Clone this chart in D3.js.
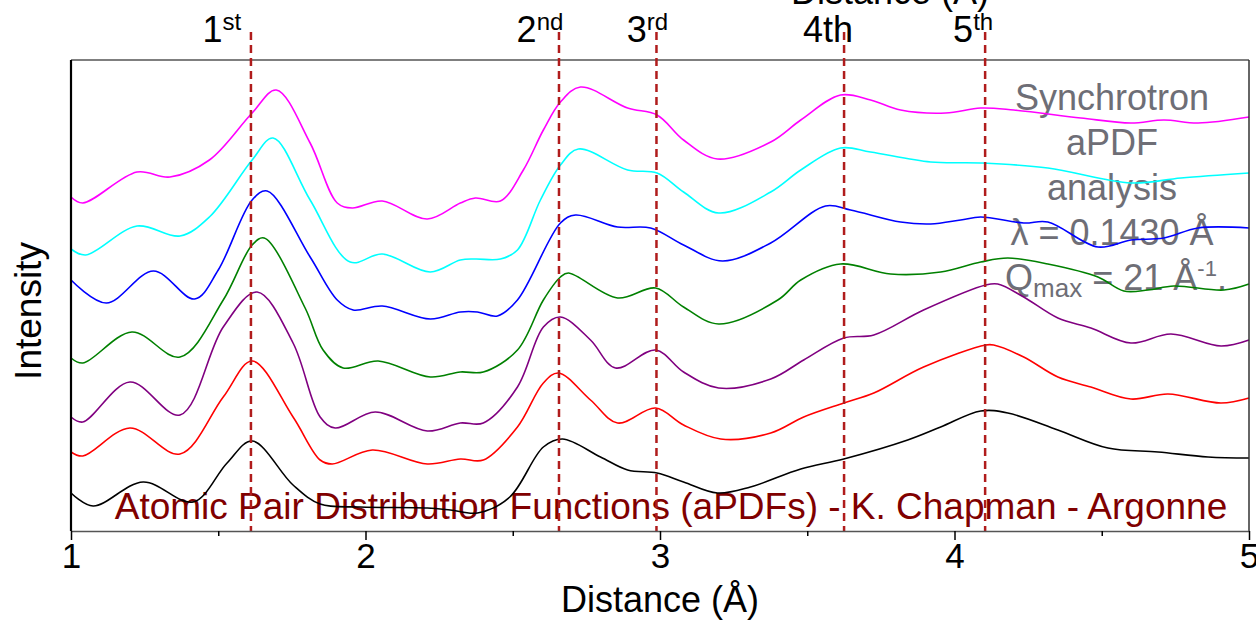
<!DOCTYPE html>
<html>
<head>
<meta charset="utf-8">
<script src="https://cdn.jsdelivr.net/npm/d3@7"></script>
<style>
  body { margin: 0; background: #fff; }
  svg { display: block; font-family: "Liberation Sans", Arial, sans-serif; }
</style>
</head>
<body>
<div class="chart"></div>
<script>
// aPDF STACKED CURVES
// each curve: [distance (Å), intensity (a.u.)]
const blackCurve = [
  [1.00, 38], [1.075, 25], [1.245, 49], [1.415, 29], [1.53, 68], [1.615, 90],
  [1.754, 46], [1.846, 27], [1.982, 24], [2.21, 23], [2.288, 21], [2.38, 18],
  [2.49, 34], [2.604, 84], [2.669, 92], [2.798, 74], [2.89, 61], [2.99, 58],
  [3.08, 49], [3.195, 38], [3.307, 44], [3.478, 62], [3.624, 72], [3.841, 91],
  [3.953, 104], [4.089, 120], [4.181, 118], [4.351, 101], [4.521, 83],
  [4.691, 79], [4.861, 74], [5.00, 73]
];
const redCurve = [
  [1.00, 79], [1.04, 75], [1.20, 103], [1.37, 77], [1.517, 134], [1.615, 170],
  [1.754, 114], [1.846, 71], [1.887, 67], [2.023, 81], [2.21, 67], [2.322, 72],
  [2.40, 71], [2.516, 104], [2.604, 148], [2.655, 158], [2.764, 131],
  [2.856, 108], [2.985, 123], [3.08, 106], [3.206, 92], [3.376, 98],
  [3.488, 114], [3.624, 128], [3.726, 138], [3.895, 164], [4.106, 186],
  [4.133, 186], [4.235, 174], [4.351, 154], [4.463, 144], [4.599, 132],
  [4.725, 137], [4.905, 128], [5.00, 133]
];
const purpleCurve = [
  [1.00, 114], [1.04, 109], [1.20, 149], [1.37, 116], [1.517, 204], [1.632, 239],
  [1.754, 188], [1.846, 114], [1.897, 103], [2.033, 119], [2.21, 100],
  [2.322, 108], [2.40, 108], [2.516, 144], [2.604, 204], [2.662, 214],
  [2.764, 191], [2.849, 163], [2.985, 181], [3.08, 159], [3.199, 143],
  [3.376, 152], [3.488, 171], [3.624, 193], [3.726, 196], [3.895, 221],
  [4.106, 246], [4.147, 247], [4.235, 234], [4.351, 213], [4.463, 203],
  [4.599, 188], [4.735, 197], [4.905, 185], [5.00, 191]
];
const greenCurve = [
  [1.00, 173], [1.04, 168], [1.207, 199], [1.37, 174], [1.517, 231], [1.615, 286],
  [1.656, 293], [1.795, 223], [1.856, 181], [1.924, 163], [2.043, 170],
  [2.22, 154], [2.322, 159], [2.40, 159], [2.516, 181], [2.604, 231],
  [2.662, 254], [2.689, 258], [2.856, 233], [2.985, 243], [3.08, 224],
  [3.199, 207], [3.40, 231], [3.478, 251], [3.613, 267], [3.783, 257],
  [3.953, 259], [4.089, 269], [4.181, 273], [4.317, 267], [4.487, 254],
  [4.575, 240], [4.657, 241], [4.745, 245], [4.915, 241], [5.00, 247]
];
const blueCurve = [
  [1.00, 251], [1.12, 228], [1.28, 260], [1.42, 232], [1.50, 261], [1.615, 331],
  [1.666, 340], [1.812, 274], [1.904, 231], [1.958, 221], [2.057, 225],
  [2.22, 212], [2.322, 219], [2.38, 219], [2.448, 215], [2.516, 231],
  [2.662, 308], [2.713, 316], [2.856, 304], [2.968, 303], [3.08, 286],
  [3.212, 270], [3.376, 288], [3.562, 325], [3.647, 321], [3.817, 309],
  [3.919, 307], [4.021, 311], [4.089, 314], [4.235, 308], [4.317, 309],
  [4.487, 284], [4.599, 291], [4.711, 293], [4.827, 303], [5.00, 303]
];
const cyanCurve = [
  [1.00, 282], [1.05, 276], [1.224, 305], [1.37, 295], [1.47, 314], [1.615, 371],
  [1.686, 393], [1.812, 331], [1.948, 269], [2.057, 277], [2.22, 259],
  [2.322, 271], [2.373, 272], [2.458, 272], [2.516, 281], [2.594, 331],
  [2.662, 366], [2.723, 382], [2.89, 361], [2.99, 358], [3.08, 339],
  [3.199, 318], [3.376, 339], [3.478, 361], [3.613, 383], [3.715, 379],
  [3.919, 369], [4.089, 368], [4.317, 363], [4.599, 348], [4.769, 353],
  [5.00, 358]
];
const magentaCurve = [
  [1.00, 334], [1.04, 328], [1.224, 359], [1.336, 354], [1.47, 371], [1.615, 418],
  [1.697, 441], [1.812, 388], [1.904, 328], [1.955, 323], [2.057, 330],
  [2.21, 312], [2.322, 328], [2.373, 333], [2.458, 330], [2.536, 361],
  [2.604, 401], [2.662, 429], [2.73, 444], [2.89, 423], [2.99, 416],
  [3.08, 391], [3.195, 372], [3.376, 389], [3.478, 411], [3.613, 436],
  [3.715, 431], [3.817, 421], [3.97, 418], [4.089, 423], [4.201, 421],
  [4.429, 413], [4.599, 408], [4.711, 411], [4.827, 408], [5.00, 414]
];

const curves = [blackCurve, redCurve, purpleCurve, greenCurve, blueCurve, cyanCurve, magentaCurve];
const curveColors = ['#000000', '#ff0000', '#800080', '#008000', '#0000ff', '#00ffff', '#ff00ff'];

// coordination shells marked with dashed lines
const shellPositions = [1.611, 2.657, 2.988, 3.625, 4.104];
const shellNumbers = ['1', '2', '3', '4', '5'];
const shellSuffixes = ['st', 'nd', 'rd', 'th', 'th'];
const shellSuffixRaised = [true, true, true, false, true];
const shellLabelShift = [-29, -19, -9, -16, -12];

const majorTicks = [1, 2, 3, 4, 5];
const minorTicks = [1.5, 2.5, 3.5, 4.5];

const infoLines = ['Synchrotron', 'aPDF', 'analysis', 'λ = 0.1430 Å'];
const creditText = 'Atomic Pair Distribution Functions (aPDFs) - K. Chapman - Argonne';

const W = 1256, H = 621;
const margin = { top: 60, right: 7, bottom: 90, left: 71 };
const width = W - margin.left - margin.right;
const height = H - margin.top - margin.bottom;

const svg = d3.select('.chart')
  .append('svg')
    .attr('width', W)
    .attr('height', H);

const g = svg.append('g')
  .attr('transform', `translate(${margin.left}, ${margin.top})`);

const xScale = d3.scaleLinear().domain([1, 5]).range([0, width]);
const yScale = d3.scaleLinear().domain([0, 471]).range([height, 0]);

// texts sit under the curves
const info = g.append('g')
  .attr('fill', '#6e6e76')
  .attr('font-size', 36)
  .attr('text-anchor', 'middle');

info.selectAll('text.line')
  .data(infoLines)
  .enter()
  .append('text')
  .attr('class', 'line')
  .attr('x', 1041)
  .attr('y', (d, i) => 50 + i * 45)
  .text(d => d);

const q = info.append('text')
  .attr('x', 1045)
  .attr('y', 230);
q.append('tspan').text('Q');
q.append('tspan').attr('font-size', 26).attr('dy', 7).text('max');
q.append('tspan').attr('dy', -7).text(' = 21 Å');
q.append('tspan').attr('font-size', 22).attr('dy', -14).text('-1');
q.append('tspan').attr('dy', 14).text('.');

g.append('text')
  .attr('x', 600)
  .attr('y', 459)
  .attr('text-anchor', 'middle')
  .attr('fill', '#800000')
  .attr('font-size', 37)
  .text(creditText);

// draw curves
const drawLine = d3.line()
  .x(d => xScale(d[0]))
  .y(d => yScale(d[1]))
  .curve(d3.curveCatmullRom.alpha(0.5));

g.selectAll('.curve')
  .data(curves)
  .enter()
  .append('path')
  .attr('class', 'curve')
  .attr('d', d => drawLine(d))
  .style('stroke', (d, i) => curveColors[i])
  .style('stroke-width', 1.6)
  .style('fill', 'none');

// frame
g.append('line')
  .attr('x1', 0).attr('x2', width).attr('y1', 0).attr('y2', 0)
  .style('stroke', '#555').style('stroke-width', 1.5);
g.append('line')
  .attr('x1', width).attr('x2', width).attr('y1', 0).attr('y2', height)
  .style('stroke', '#333').style('stroke-width', 1.5);
g.append('line')
  .attr('x1', 0).attr('x2', 0).attr('y1', 0).attr('y2', height)
  .style('stroke', '#000').style('stroke-width', 2.2);

// dashed shell lines
g.selectAll('.shell')
  .data(shellPositions)
  .enter()
  .append('line')
  .attr('class', 'shell')
  .attr('x1', d => xScale(d)).attr('x2', d => xScale(d))
  .attr('y1', -28).attr('y2', height)
  .style('stroke', '#b01c1c')
  .style('stroke-width', 2.5)
  .style('stroke-dasharray', '8,5');

const shellLabels = g.selectAll('.shell-label')
  .data(shellPositions)
  .enter()
  .append('text')
  .attr('class', 'shell-label')
  .attr('x', (d, i) => xScale(d) + shellLabelShift[i])
  .attr('y', -18)
  .attr('text-anchor', 'middle')
  .attr('font-size', 36)
  .attr('fill', '#000');

shellLabels.append('tspan').text((d, i) => shellNumbers[i]);
shellLabels.append('tspan')
  .attr('font-size', (d, i) => shellSuffixRaised[i] ? 24 : 36)
  .attr('dy', (d, i) => shellSuffixRaised[i] ? -12 : 0)
  .text((d, i) => shellSuffixes[i]);

// x-axis
const xAxis = g.append('g')
  .attr('transform', `translate(0, ${height})`)
  .call(d3.axisBottom(xScale).tickValues(majorTicks).tickSize(9).tickSizeOuter(0).tickFormat(d3.format('d')));
xAxis.select('.domain').style('stroke', '#555').style('stroke-width', 1.5);
xAxis.selectAll('.tick line').style('stroke', '#000').style('stroke-width', 1.5);
xAxis.selectAll('.tick text')
  .attr('font-size', 35)
  .attr('font-family', '"Liberation Sans", Arial, sans-serif')
  .attr('fill', '#000');

const xMinor = g.append('g')
  .attr('transform', `translate(0, ${height})`)
  .call(d3.axisBottom(xScale).tickValues(minorTicks).tickSize(5).tickSizeOuter(0).tickFormat(''));
xMinor.select('.domain').remove();
xMinor.selectAll('.tick line').style('stroke', '#000').style('stroke-width', 1.5);

// axis titles
svg.append('text')
  .attr('x', margin.left + width / 2)
  .attr('y', 612)
  .attr('text-anchor', 'middle')
  .attr('font-size', 36)
  .text('Distance (Å)');

svg.append('text')
  .attr('x', 890)
  .attr('y', 4)
  .attr('text-anchor', 'middle')
  .attr('font-size', 36)
  .text('Distance (Å)');

svg.append('text')
  .attr('transform', 'translate(41, 311) rotate(-90)')
  .attr('text-anchor', 'middle')
  .attr('font-size', 37)
  .text('Intensity');
</script>
</body>
</html>
